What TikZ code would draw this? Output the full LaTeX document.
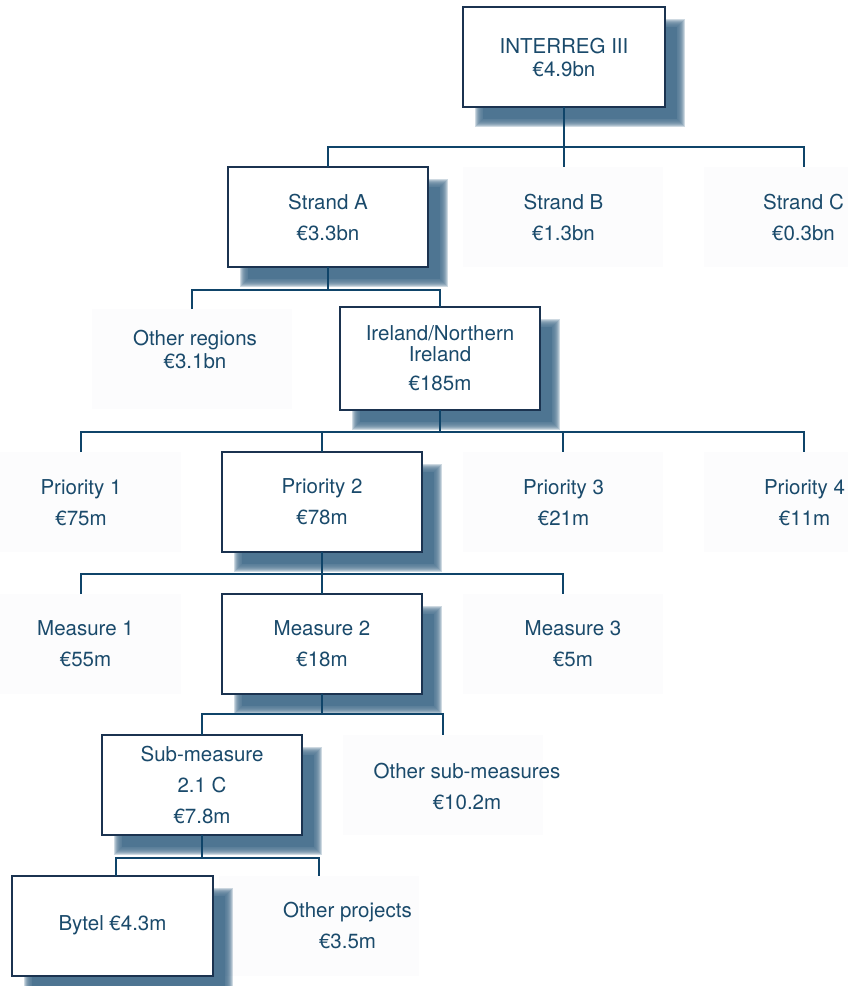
\documentclass[tikz,border=0pt]{standalone}
\usepackage{fontspec}
\setmainfont{TeX Gyre Heros}
\definecolor{txtc}{HTML}{1A4A6B}
\definecolor{linec}{HTML}{0F4469}
\definecolor{boxc}{HTML}{1B3350}
\definecolor{shadowc}{HTML}{4E7592}
\definecolor{ghostc}{HTML}{FCFCFD}
\pgfdeclarelayer{ghostlayer}
\pgfdeclarelayer{shadowlayer}
\pgfsetlayers{ghostlayer,shadowlayer,main}
\begin{document}
\begin{tikzpicture}[x=1pt,y=-1pt,
  realbox/.style={rectangle, draw=boxc, line width=2pt, fill=white, minimum width=200pt, minimum height=100pt, inner sep=0pt, outer sep=0pt, text=txtc, align=center, font=\fontsize{20.5}{31}\selectfont},
  ghost/.style={rectangle, minimum width=200pt, minimum height=100pt, inner sep=0pt, outer sep=0pt},
  lbl/.style={text=txtc, align=center, inner sep=0pt, font=\fontsize{20.5}{31}\selectfont},
  conn/.style={draw=linec, line width=2pt}]
\useasboundingbox (0,0) rectangle (848,986);
% level 1
\node[realbox, minimum width=202pt, font=\fontsize{20.5}{23}\selectfont] (top) at (564,57) {INTERREG III\\€4.9bn};
% level 2
\node[realbox] (sA) at (328,217) {Strand A\\€3.3bn};
\node[ghost] (sB) at (563,217) {};
\node[lbl] (tB) at (563.5,217) {Strand B\\€1.3bn};
\node[ghost] (sC) at (804,217) {};
\node[lbl] (tC) at (803.5,217.5) {Strand C\\€0.3bn};
% level 3
\node[ghost] (oreg) at (192,359) {};
\node[lbl, font=\fontsize{20.5}{23}\selectfont] (toreg) at (195,349.5) {Other regions\\€3.1bn};
\node[realbox, minimum height=103pt, font=\fontsize{20.5}{21}\selectfont] (ire) at (440,358.5) {Ireland/Northern\\Ireland\\[8pt]€185m};
% level 4
\node[ghost] (p1) at (81,502) {};
\node[lbl] (tp1) at (81,502.5) {Priority 1\\€75m};
\node[realbox] (p2) at (322,502) {Priority 2\\€78m};
\node[ghost] (p3) at (563,502) {};
\node[lbl] (tp3) at (563.5,502.5) {Priority 3\\€21m};
\node[ghost] (p4) at (804,502) {};
\node[lbl] (tp4) at (804.5,502.5) {Priority 4\\€11m};
% level 5
\node[ghost] (m1) at (81,644) {};
\node[lbl] (tm1) at (85.5,644) {Measure 1\\€55m};
\node[realbox] (m2) at (322,644) {Measure 2\\€18m};
\node[ghost] (m3) at (563,644) {};
\node[lbl] (tm3) at (573,644) {Measure 3\\€5m};
% level 6
\node[realbox] (sm) at (202,785) {Sub-measure\\2.1 C\\€7.8m};
\node[ghost] (osm) at (443,785) {};
\node[lbl] (tosm) at (467,786) {Other sub-measures\\€10.2m};
% level 7
\node[realbox, minimum width=201pt] (bytel) at (112.5,925.5) {Bytel €4.3m};
\node[ghost] (oproj) at (319,925.5) {};
\node[lbl] (toproj) at (347.5,925.5) {Other projects\\€3.5m};
% junctions
\coordinate (j1) at (563,147);
\coordinate (j2) at (328,290);
\coordinate (j3) at (440,432);
\coordinate (j4) at (322,574);
\coordinate (j5) at (322,714);
\coordinate (j6) at (202,858);
% connectors
\draw[conn] (top.south) -- (top.south |- sB.north);
\draw[conn] (sA.north) |- (j1 -| sC.north) -- (sC.north);
\draw[conn] (sA.south) -- (j2);
\draw[conn] (oreg.north) |- (j2 -| ire.north) -- (ire.north);
\draw[conn] (ire.south) -- (j3);
\draw[conn] (p1.north) |- (j3 -| p4.north) -- (p4.north);
\draw[conn] (j3 -| p2.north) -- (p2.north);
\draw[conn] (j3 -| p3.north) -- (p3.north);
\draw[conn] (p2.south) -- (m2.north);
\draw[conn] (m1.north) |- (j4 -| m3.north) -- (m3.north);
\draw[conn] (m2.south) -- (j5);
\draw[conn] (sm.north) |- (j5 -| osm.north) -- (osm.north);
\draw[conn] (sm.south) -- (j6);
\draw[conn] ([xshift=3.5pt]bytel.north) |- (j6 -| oproj.north) -- (oproj.north);
% shadows (soft-edged)
\begin{pgfonlayer}{shadowlayer}
\foreach \n in {top,sA,ire,p2,m2,sm,bytel}{
  \foreach \d in {4,3,2,1,0,-1,-2,-3}{
    \fill[shadowc, opacity=0.28] ([shift={(16-\d,16-\d)}]\n.north west) rectangle ([shift={(16+\d,16+\d)}]\n.south east);
  }
  \fill[shadowc] ([shift={(20,20)}]\n.north west) rectangle ([shift={(12,12)}]\n.south east);
}
\end{pgfonlayer}
% faint background boxes
\begin{pgfonlayer}{ghostlayer}
\foreach \n in {sB,sC,oreg,p1,p3,p4,m1,m3,osm,oproj}{
  \fill[ghostc] (\n.north west) rectangle (\n.south east);
}
\end{pgfonlayer}
\end{tikzpicture}
\end{document}
